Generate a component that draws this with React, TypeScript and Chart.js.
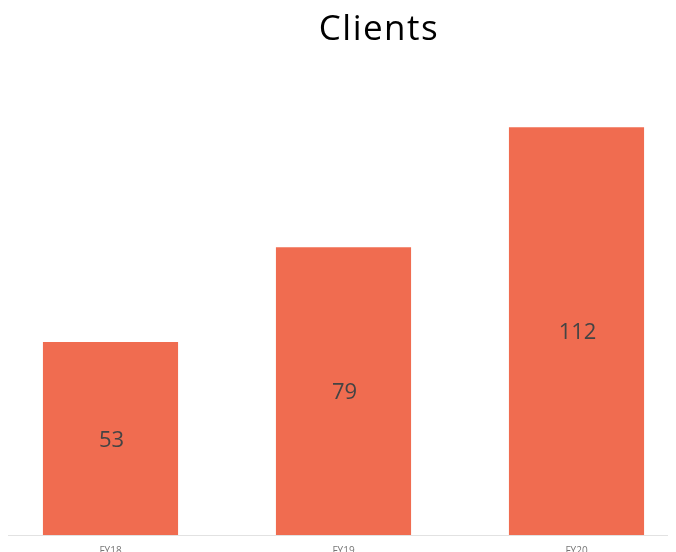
import React, { useEffect, useRef } from "react";
import { Chart, registerables } from "chart.js";

Chart.register(...registerables);

const categories = ["FY18", "FY19", "FY20"];
const clients = [53, 79, 112];
const titleText = "Clients";

const valueLabels = {
  id: "valueLabels",
  afterDatasetsDraw(chart: any) {
    const { ctx } = chart;
    const meta = chart.getDatasetMeta(0);
    ctx.save();
    ctx.font = "400 22px 'Open Sans', sans-serif";
    ctx.fillStyle = "#444444";
    ctx.textAlign = "center";
    ctx.textBaseline = "middle";
    meta.data.forEach((bar: any, i: number) => {
      const { x, y, base } = bar.getProps(["x", "y", "base"], true);
      ctx.fillText(String(clients[i]), x + 1, (y + base) / 2 + 2);
    });
    ctx.restore();
  },
};

export default function App() {
  const ref = useRef<HTMLCanvasElement>(null);
  useEffect(() => {
    if (!ref.current) return;
    const chart = new Chart(ref.current, {
      type: "bar",
      data: {
        labels: categories,
        datasets: [
          {
            data: clients,
            backgroundColor: "#F06C50",
            borderWidth: 0,
            categoryPercentage: 1,
            barPercentage: 0.58,
          },
        ],
      },
      options: {
        responsive: false,
        animation: false,
        layout: { padding: { left: 0, right: 0, top: 90, bottom: 0 } },
        plugins: {
          legend: { display: false },
          tooltip: { enabled: false },
          title: { display: false },
        },
        scales: {
          x: {
            grid: { display: false, drawTicks: false },
            border: { display: true, color: "#e2e2e2", width: 1 },
            ticks: {
              color: "#777777",
              padding: 10,
              font: { size: 10, family: "'Open Sans', sans-serif" },
            },
          },
          y: { display: false, min: 0, max: 120 },
        },
      },
      plugins: [valueLabels],
    });
    return () => chart.destroy();
  }, []);
  return (
    <div style={{ position: "relative", width: 668, height: 544, overflow: "hidden" }}>
      <canvas
        ref={ref}
        width={699}
        height={559}
        style={{ display: "block", marginLeft: -14 }}
      />
      <div
        style={{
          position: "absolute",
          top: 1,
          left: 221,
          width: 300,
          textAlign: "center",
          fontFamily: "'Open Sans', sans-serif",
          fontSize: 35,
          fontWeight: 500,
          lineHeight: 1,
          color: "#000",
          letterSpacing: 1.5,
        }}
      >
        {titleText}
      </div>
    </div>
  );
}
